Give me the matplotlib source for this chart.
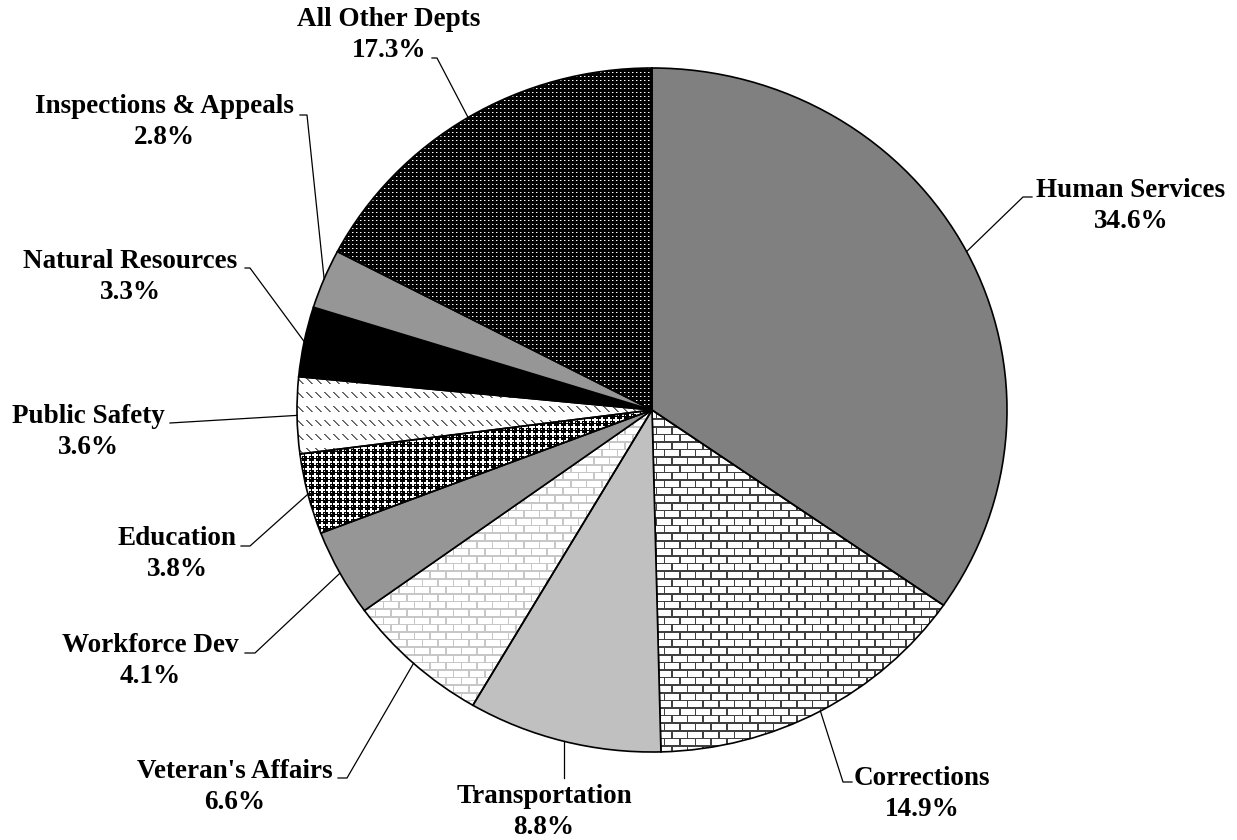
import numpy as np
import matplotlib
matplotlib.use('Agg')
import matplotlib.pyplot as plt

# data
depts = ['Human Services', 'Corrections', 'Transportation', "Veteran's Affairs",
         'Workforce Dev', 'Education', 'Public Safety', 'Natural Resources',
         'Inspections & Appeals', 'All Other Depts']
shares = [34.6, 14.9, 8.8, 6.6, 4.1, 3.8, 3.6, 3.3, 2.8, 17.3]

# fill per slice: a plain colour or the name of a texture
fills = ['#808080', 'brick_dark', '#c0c0c0', 'brick_light', '#969696',
         'balls', 'dashes', '#000000', '#969696', 'dots']

# layout in pixels of the 1237x840 canvas
W, H = 1237, 840
CX, CY, RX, RY = 652, 410, 355, 342
label_xy = [(1131, 206), (922, 794), (544, 812), (235, 787), (150, 661),
            (177, 554), (88, 432), (130, 277), (164, 122), (389, 35)]
# None as x = keep the x of the slice edge (vertical leader)
leader_pts = [[(1023, 197), (1032, 197)], [(843, 782), (852, 782)],
              [(None, 778)], [(347, 778), (338, 778)],
              [(255, 653), (245, 653)], [(250, 546), (241, 546)],
              [(170, 423)], [(250, 268), (245, 268)],
              [(307, 115), (300, 115)], [(437, 58), (432, 58)]]


def px(x, y):
    return (x - CX) / RX, (CY - y) / RY


# textures on a pixel grid the size of the canvas
yy, xx = np.mgrid[0:H, 0:W]


def brick(line):
    img = np.ones((H, W))
    row = np.floor(yy / 7.6)
    hline = (yy - row * 7.6) < 1.6
    xs = xx + (row % 2) * 7.8
    vline = (xs % 15.6) < 1.6
    img[hline | vline] = line
    return img


def balls():
    img = np.ones((H, W))
    cx = (xx // 7) * 7 + 3
    cy = (yy // 7) * 7 + 3
    d2 = (xx - cx) ** 2 + (yy - cy) ** 2
    img[d2 <= 9] = 0.0
    img[(xx - cx == -1) & (yy - cy == -1)] = 0.9
    return img


def dashes():
    img = np.ones((H, W))
    ry = yy % 14
    k = (xx - ry) % 9
    img[(ry < 6) & (k == 0)] = 0.35
    img[(ry < 6) & (k == 1)] = 0.5
    return img


def dots():
    img = np.zeros((H, W))
    img[(xx % 4 == 0) & (yy % 4 == 0)] = 1.0
    img[(xx % 4 == 1) & (yy % 4 == 0)] = 0.45
    return img


textures = {'brick_dark': lambda: brick(0.25), 'brick_light': lambda: brick(0.78),
            'balls': balls, 'dashes': dashes, 'dots': dots}

fig = plt.figure(figsize=(W / 100, H / 100), dpi=100)
ax = fig.add_axes([0, 0, 1, 1])

colors = [f if f.startswith('#') else 'none' for f in fills]
wedges, _ = ax.pie(shares, colors=colors, startangle=90, counterclock=False,
                   wedgeprops=dict(edgecolor='black', linewidth=1.2))

x0, x1 = px(0, 0)[0], px(W, 0)[0]
y0, y1 = px(0, H)[1], px(0, 0)[1]

for w, f in zip(wedges, fills):
    if f in textures:
        tex = textures[f]()
        im = ax.imshow(tex, cmap='gray', vmin=0, vmax=1, extent=(x0, x1, y0, y1),
                       origin='upper', interpolation='nearest', aspect='auto',
                       zorder=0.5)
        im.set_clip_path(w)

for w, name, pct, (tx, ty), pts in zip(wedges, depts, shares, label_xy, leader_pts):
    mid = np.deg2rad((w.theta1 + w.theta2) / 2)
    sx, sy = np.cos(mid), np.sin(mid)
    xs, ys = [sx], [sy]
    for p in pts:
        if p[0] is None:
            xs.append(sx)
            ys.append(px(0, p[1])[1])
        else:
            xs.append(px(*p)[0])
            ys.append(px(*p)[1])
    ax.plot(xs, ys, color='black', lw=0.9, zorder=3)
    lx, ly = px(tx, ty)
    ax.text(lx, ly, f'{name}\n{pct:.1f}%', ha='center', va='center',
            fontsize=19.5, fontweight='bold', family='Liberation Serif',
            linespacing=1.28, zorder=4)

ax.set_aspect('auto')
ax.set_xlim(x0, x1)
ax.set_ylim(y0, y1)
ax.axis('off')

fig.savefig('out.png', dpi=100)
